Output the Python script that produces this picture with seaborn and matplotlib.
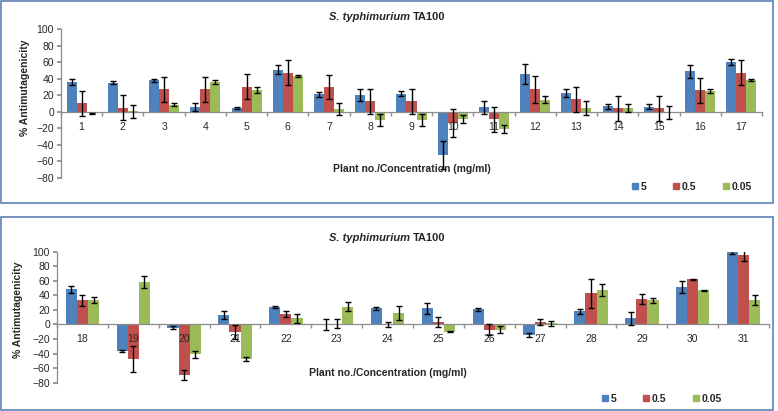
import numpy as np
import pandas as pd
import seaborn as sns
import matplotlib
matplotlib.use("Agg")
import matplotlib.pyplot as plt
from matplotlib.patches import Rectangle
from matplotlib.lines import Line2D

# concentrations (mg/ml) and Excel-like colours
concs = ["5", "0.5", "0.05"]
colors = {"5": "#4F81BD", "0.5": "#C0504D", "0.05": "#9BBB59"}

# top panel, plants 1-17
top_plants = [str(i) for i in range(1, 18)]
top_5 = [36, 35, 38, 6, 4.5, 51, 21, 20.5, 21.5, -52, 5.5, 46, 23, 6.5, 6, 49, 60]
top_05 = [10, 5, 27, 27, 30.5, 47, 30, 12.5, 12.5, -14, -9, 27, 15, 4, 4, 26, 47]
top_005 = [-2, 0.5, 8.5, 36, 26, 43, 3, -10, -10, -9, -21, 14.5, 5, 4.5, -0.5, 25, 38.5]
top_5_err = [3.5, 2, 2, 5, 1, 5, 3, 7.5, 3, 17, 8, 12, 5, 3, 3, 8, 3.5]
top_05_err = [15, 15, 15, 15, 15, 15, 15, 15, 15, 17, 15, 16, 15, 15.5, 15, 15, 15]
top_005_err = [1, 7.5, 2, 2, 3.5, 1, 7, 7, 7.5, 5, 5, 4, 8.5, 4.5, 8, 2.5, 1]

# bottom panel, plants 18-31
bot_plants = [str(i) for i in range(18, 32)]
bot_5 = [48.5, -36.5, -4.5, 13, 24, 0, 22, 22, 21, -14.5, 18, 8.5, 51.5, 100]
bot_05 = [33.5, -47.5, -69.5, -10.5, 14.5, 1, 0, 3, -7, 3.5, 43, 35, 62, 95]
bot_005 = [33.5, 58.5, -41, -47.5, 8.5, 24.5, 16, -10, -7, 1.5, 47, 33.5, 47, 33.5]
bot_5_err = [5, 2, 2, 5, 1, 8, 2.5, 8, 2, 3, 3, 9, 8, 3]
bot_05_err = [7.5, 18, 7, 10, 4, 6, 4, 7, 8, 4, 20, 7, 1, 8]
bot_005_err = [4.5, 8, 5, 2.5, 6, 6.5, 10, 1, 5, 3.5, 8, 3.5, 1, 6.5]

sns.set_theme(style="white")
plt.rcParams['font.family'] = ['Liberation Sans', 'DejaVu Sans']

W, H = 778, 411
fig = plt.figure(figsize=(W / 100, H / 100), dpi=100)

def fx(px):
    return px / W

def fy(py):
    return 1 - py / H

def panel(rect, plants, vals, errs, width, ylab_xy, title_y, title_split, xt_xy, leg_xy):
    ax = fig.add_axes(rect)
    df = pd.DataFrame({
        'plant': plants * 3,
        'conc': sum([[c] * len(plants) for c in concs], []),
        'value': sum(vals, []),
    })
    sns.barplot(data=df, x='plant', y='value', hue='conc', order=plants,
                hue_order=concs, palette=colors, width=width, saturation=1,
                errorbar=None, legend=False, ax=ax, linewidth=0, zorder=1)
    for cont, err in zip(ax.containers, errs):
        xs = [b.get_x() + b.get_width() / 2 for b in cont]
        ys = [b.get_height() for b in cont]
        ax.errorbar(xs, ys, yerr=err, fmt='none', ecolor='black',
                    elinewidth=1, capsize=2, capthick=1, zorder=3)
    n = len(plants)
    ax.set_axisbelow(False)
    ax.set_xlim(-0.5, n - 0.5)
    ax.set_ylim(-80, 100)
    ax.set_yticks(range(-80, 101, 20))
    ax.set_xticks(np.arange(-0.5, n, 1.0), minor=True)
    for s in ['top', 'right']:
        ax.spines[s].set_visible(False)
    ax.spines['bottom'].set_position(('data', 0))
    for s in ['left', 'bottom']:
        ax.spines[s].set_color('#8C8C8C')
        ax.spines[s].set_linewidth(0.9)
    ax.tick_params(axis='x', which='major', length=0, pad=7, labelsize=7.5)
    ax.tick_params(axis='x', which='minor', length=3, direction='out',
                   color='#8C8C8C', bottom=True)
    ax.tick_params(axis='y', length=3, direction='out', color='#8C8C8C',
                   left=True, labelsize=7.5, pad=2)
    ax.set_xlabel('')
    ax.set_ylabel('')
    fig.text(fx(ylab_xy[0]), fy(ylab_xy[1]), '% Antimutagenicity', rotation=90,
             ha='center', va='center', fontsize=7.5, fontweight='bold')
    fig.text(fx(title_split), fy(title_y), 'S. typhimurium', ha='right',
             va='center', fontsize=8, fontweight='bold', style='italic')
    fig.text(fx(title_split + 3), fy(title_y), 'TA100', ha='left',
             va='center', fontsize=8, fontweight='bold')
    fig.text(fx(xt_xy[0]), fy(xt_xy[1]), 'Plant no./Concentration (mg/ml)',
             ha='center', va='center', fontsize=7.5, fontweight='bold')
    handles = [Line2D([], [], marker='s', ls='none', color=colors[c],
                      markersize=4.5, label=c) for c in concs]
    fig.legend(handles=handles, loc='center left',
               bbox_to_anchor=(fx(leg_xy[0]), fy(leg_xy[1])), ncol=3,
               frameon=False, handlelength=0.6, handletextpad=0.2,
               columnspacing=2.6, prop={'weight': 'bold', 'size': 7.5},
               borderaxespad=0, borderpad=0)
    return ax

panel([fx(61), fy(178), fx(762 - 61), fy(29) - fy(178)], top_plants,
      [top_5, top_05, top_005], [top_5_err, top_05_err, top_005_err], 0.73,
      (25, 88), 17, 410, (412, 169), (632, 187))

panel([fx(57), fy(382.7), fx(769 - 57), fy(251.7) - fy(382.7)], bot_plants,
      [bot_5, bot_05, bot_005], [bot_5_err, bot_05_err, bot_005_err], 0.66,
      (18, 310), 238, 410, (388, 373), (602, 399))

# chart borders
for (x0, y0, x1, y1) in [(1, 1, 773, 203), (1, 217, 773, 410)]:
    fig.add_artist(Rectangle((fx(x0), fy(y1)), fx(x1 - x0), fy(y0) - fy(y1),
                             transform=fig.transFigure, fill=False,
                             edgecolor='#5F82B8', linewidth=1.2))

fig.savefig('out.png', dpi=100)
